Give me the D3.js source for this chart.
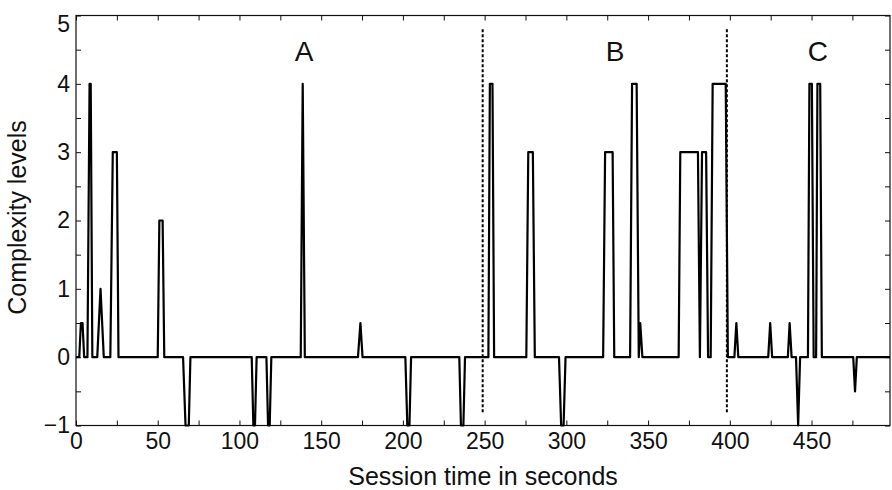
<html><head>
<title>Complexity levels over session time</title>
<script src="https://cdnjs.cloudflare.com/ajax/libs/d3/7.8.5/d3.min.js"></script>
<style>
  body { margin: 0; background: #fff; }
  svg text { font-family: "Liberation Sans", Arial, Helvetica, sans-serif; fill: #111; }
  .axis .domain { display: none; }
  .axis line { stroke: #111; stroke-width: 1; }
  .axis text { font-size: 23px; }
  .trace { fill: none; stroke: #000; stroke-width: 2.2; stroke-linejoin: round; }
  .divider { stroke: #000; stroke-width: 2; stroke-dasharray: 3,2; }
</style>
</head>
<body>
<svg id="complexity" width="892" height="490"></svg>
<script>

// session time (s) and complexity level at each break point of the trace
let times = [0, 2, 3, 4, 5, 7, 8.3, 9, 10, 13, 15, 17, 21, 22.5, 25, 26, 50, 51, 53, 54,
  65.5, 67, 69, 70, 107.5, 108.5, 109.5, 110.5, 116.5, 117.5, 118.5, 119.5,
  137.5, 138.7, 140, 172.5, 174, 175.3, 201.5, 202.7, 204, 205, 234.5, 235.5, 237, 238,
  252.3, 253.2, 254.8, 255.8, 275.5, 276.7, 279.5, 280.7, 295.5, 296.8, 298.3, 299.5,
  322.5, 323.7, 328.3, 329.3, 339, 340.2, 343, 344.3, 345.2, 346.5,
  368.7, 369.7, 380.5, 381.7, 383, 385.5, 386.7, 388.3, 389.5, 397.5, 398.8,
  402.8, 404, 405.2, 423.5, 424.7, 425.9, 435.5, 436.6, 437.8, 440.5, 441.8, 443,
  447.8, 448.7, 450.2, 451.3, 452.8, 453.6, 455.3, 456.3, 475.5, 476.6, 477.7, 498];
let levels = [0, 0, 0.5, 0.5, 0, 0, 4, 4, 0, 0, 1, 0, 0, 3, 3, 0, 0, 2, 2, 0,
  0, -1, -1, 0, 0, -1, -1, 0, 0, -1, -1, 0,
  0, 4, 0, 0, 0.5, 0, 0, -1, -1, 0, 0, -1, -1, 0,
  0, 4, 4, 0, 0, 3, 3, 0, 0, -1, -1, 0,
  0, 3, 3, 0, 0, 4, 4, 0, 0.5, 0,
  0, 3, 3, 0, 3, 3, 0, 0, 4, 4, 0,
  0, 0.5, 0, 0, 0.5, 0, 0, 0.5, 0, 0, -1, 0,
  0, 4, 4, 0, 0, 4, 4, 0, 0, -0.5, 0, 0];

// phase boundaries and phase names
let dividerTimes = [248.8, 398.2];
let dividerRange = [4.8, -0.82];
let phaseNames = ["A", "B", "C"];
let phaseTimes = [139.5, 329.8, 453.8];
let phaseLevel = 4.33;

let xTicks = d3.range(0, 498, 25);
let yTicks = d3.range(-1, 5.01, 0.5);

// housekeeping
let svg = d3.select("svg#complexity");
let margin = { top: 15.5, right: 2, bottom: 64.5, left: 76 };
let width = svg.attr("width") - margin.left - margin.right;
let height = svg.attr("height") - margin.top - margin.bottom;

let xScale = d3.scaleLinear().domain([0, 498]).range([margin.left, margin.left + width]);
let yScale = d3.scaleLinear().domain([-1, 5]).range([margin.top + height, margin.top]);

// inward ticks on all four sides, labels only on bottom and left
let xFmt = d => (d % 50 === 0 ? d : "");
let yFmt = d => (Number.isInteger(d) ? (d < 0 ? "\u22121" : d) : "");

svg.append("g").attr("class", "x axis")
  .attr("transform", "translate(0," + (margin.top + height) + ")")
  .call(d3.axisBottom(xScale).tickValues(xTicks).tickFormat(xFmt).tickSize(-5).tickSizeOuter(0).tickPadding(7));
svg.append("g").attr("class", "axis")
  .attr("transform", "translate(0," + margin.top + ")")
  .call(d3.axisTop(xScale).tickValues(xTicks).tickFormat("").tickSize(-5).tickSizeOuter(0));
let yAxisG = svg.append("g").attr("class", "y axis")
  .attr("transform", "translate(" + margin.left + ",0)")
  .call(d3.axisLeft(yScale).tickValues(yTicks).tickFormat(yFmt).tickSize(-5).tickSizeOuter(0).tickPadding(6));
svg.append("g").attr("class", "axis")
  .attr("transform", "translate(" + (margin.left + width) + ",0)")
  .call(d3.axisRight(yScale).tickValues(yTicks).tickFormat("").tickSize(-5).tickSizeOuter(0));

// the top label sits just inside the box, like the original
yAxisG.selectAll(".tick text").filter(d => d === 5).attr("dy", "0.7em");

// box
svg.append("rect")
  .attr("x", margin.left).attr("y", margin.top)
  .attr("width", width).attr("height", height)
  .attr("fill", "none").attr("stroke", "#111").attr("stroke-width", 1.2);

// trace
let points = times.map((t, i) => [t, levels[i]]);
let line = d3.line().x(d => xScale(d[0])).y(d => yScale(d[1]));
svg.append("path").attr("class", "trace").attr("d", line(points));

// phase dividers
svg.selectAll("line.divider").data(dividerTimes).enter().append("line")
  .attr("class", "divider")
  .attr("x1", d => xScale(d)).attr("x2", d => xScale(d))
  .attr("y1", yScale(dividerRange[0])).attr("y2", yScale(dividerRange[1]));

// phase names
svg.selectAll("text.phase").data(phaseNames).enter().append("text")
  .attr("class", "phase")
  .attr("x", (d, i) => xScale(phaseTimes[i]))
  .attr("y", yScale(phaseLevel))
  .attr("text-anchor", "middle")
  .style("font-size", "28px")
  .text(d => d);

// axis titles
svg.append("text")
  .attr("x", margin.left + width / 2).attr("y", 485)
  .attr("text-anchor", "middle").style("font-size", "25px")
  .text("Session time in seconds");
svg.append("text")
  .attr("transform", "translate(26," + (margin.top + height / 2 - 3) + ") rotate(-90)")
  .attr("text-anchor", "middle").style("font-size", "25px")
  .text("Complexity levels");

</script>
</body>
</html>
